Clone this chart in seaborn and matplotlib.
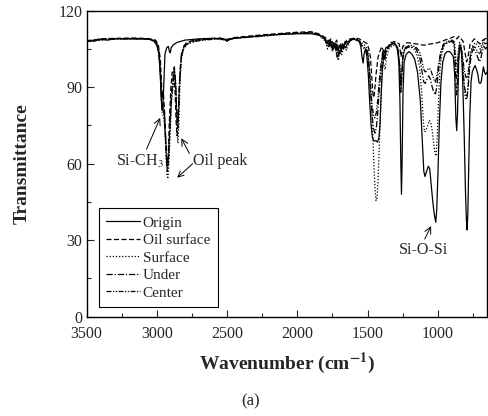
import numpy as np
import pandas as pd
import matplotlib
matplotlib.use("Agg")
import matplotlib.pyplot as plt
from matplotlib.ticker import MultipleLocator
import seaborn as sns

series_names = ["Origin", "Oil surface", "Surface", "Under", "Center"]

origin = [(3500,107.5),(3480,108.5),(3450,108),(3400,108.8),(3350,108.5),(3300,109),(3200,109),(3100,109),
    (3050,108.8),(3020,108),(3000,106.5),(2985,103),(2975,95),(2968,85),(2962,81),(2956,83),(2950,92),
    (2942,103),(2930,105.5),(2918,106),(2910,104),(2904,103.5),(2898,105.5),(2885,106.5),(2860,107.5),
    (2800,108.5),(2700,109),(2600,109.2),(2520,109),(2500,108),(2480,109),(2400,109.5),(2300,110),
    (2200,110.5),(2100,110.8),(2000,111),(1900,111),(1850,110.5),(1820,110),(1800,108.5),(1790,107),
    (1780,108.5),(1770,106),(1760,108),(1750,105.5),(1740,107.5),(1730,105),(1720,107),(1710,104),
    (1700,106.5),(1690,105),(1680,107),(1670,105.5),(1660,108),(1640,107),(1620,108.5),(1600,109),
    (1580,108.5),(1560,108),(1548,106),(1540,102),(1532,99.5),(1525,103),(1515,105),(1505,102),
    (1495,95),(1485,84),(1475,75),(1465,70),(1455,69),(1440,69),(1430,68.5),(1420,70),(1412,75),
    (1405,85),(1395,97),(1385,103),(1370,105.5),(1340,106.5),(1310,107.5),(1290,106),(1278,100),
    (1270,85),(1264,62),(1259,48),(1254,62),(1248,88),(1240,100),(1225,103),(1205,104),(1185,103),
    (1165,101),(1145,96),(1125,85),(1110,68),(1100,57),(1092,55),(1080,57),(1068,59),(1058,58),
    (1048,52),(1036,45),(1025,40),(1015,37),(1008,42),(1000,55),(990,75),(978,92),(965,100),
    (950,103),(935,104),(915,104),(900,103),(890,102),(880,95),(872,78),(866,73),(860,80),(852,100),
    (845,105),(838,106),(830,103),(822,90),(812,70),(804,50),(797,38),(792,34),(787,40),(780,60),
    (772,80),(764,92),(755,96),(745,97.5),(735,98.5),(725,97),(715,95),(708,92),(700,91.5),(692,92),
    (684,95),(676,98),(668,96),(660,95),(650,96)]

oil_surface = [(3500,108),(3450,108.5),(3400,109),(3300,109.2),(3200,109.3),(3100,109.2),(3050,109),
    (3010,108.5),(2990,107),(2975,101),(2965,90),(2960,86),(2954,88),(2946,82),(2938,70),(2930,60),
    (2925,57),(2920,60),(2912,75),(2900,90),(2890,96),(2880,95),(2870,88),(2862,76),(2856,71),
    (2850,74),(2842,88),(2830,100),(2815,105),(2790,107.5),(2740,108.5),(2650,109),(2550,109.3),
    (2500,108.8),(2450,109.5),(2300,110.3),(2200,110.8),(2100,111.2),(2000,111.6),(1900,111.8),
    (1850,111),(1800,109.5),(1780,108),(1760,109),(1740,106.5),(1720,108.5),(1700,103),(1690,107),
    (1670,105),(1650,108.5),(1620,109),(1590,109.3),(1560,109),(1530,108),(1500,107),(1480,102),
    (1468,92),(1460,86),(1452,87),(1440,95),(1425,102),(1400,106),(1385,104),(1377,101),(1370,104),
    (1340,107.5),(1300,108),(1275,107),(1262,102),(1250,106),(1220,107.5),(1150,107),(1100,106.5),
    (1050,107),(1000,107.5),(950,108.5),(900,109.5),(880,110),(865,109),(850,110),(820,108),
    (805,103),(795,100),(785,102),(770,107),(740,109),(720,108),(700,107),(680,108.5),(650,109.5)]

surface = [(3500,107.5),(3450,108.5),(3400,108.5),(3300,109),(3200,109),(3100,109),(3040,108.8),
    (3010,108),(2990,105),(2978,98),(2968,86),(2962,80),(2955,79),(2945,75),(2935,64),(2928,56),
    (2922,54),(2916,58),(2905,72),(2895,84),(2885,90),(2878,96),(2870,95),(2862,85),(2855,72),
    (2850,68),(2843,76),(2835,92),(2825,101),(2810,105),(2780,107),(2700,108.5),(2600,109),
    (2500,108.5),(2450,109.3),(2300,110),(2200,110.5),(2100,110.8),(2000,111.2),(1900,111.4),
    (1850,110.8),(1800,108),(1785,105),(1770,107.5),(1750,104),(1735,106.5),(1720,103),(1708,100.5),
    (1700,104),(1685,102.5),(1670,106),(1650,104.5),(1630,108),(1600,109),(1570,108.8),(1545,107.5),
    (1520,106.5),(1500,105),(1488,98),(1478,88),(1470,80),(1462,70),(1454,58),(1446,49),(1440,45.5),
    (1434,46),(1426,53),(1418,65),(1410,78),(1400,92),(1390,100),(1380,98),(1375,97),(1368,101),
    (1350,105),(1320,106.5),(1295,106),(1280,103),(1270,97),(1262,90),(1256,96),(1248,103),
    (1230,105.5),(1200,106),(1170,105),(1150,103),(1130,98),(1115,88),(1105,78),(1095,72.5),
    (1085,73),(1072,75),(1060,77),(1050,76),(1040,73),(1030,68),(1020,64),(1013,63),(1005,70),
    (995,85),(985,97),(970,104),(950,107),(920,108),(895,108.5),(880,107),(870,100),(862,98),
    (855,104),(845,107.5),(835,106),(825,100),(815,92),(805,86),(798,85),(790,88),(780,96),
    (770,103),(755,106),(735,107.5),(715,106.5),(700,105),(685,107),(670,108.5),(650,109)]

under = [(3500,108),(3420,108.8),(3300,109),(3150,109.2),(3050,109),(3010,108.3),(2990,106),
    (2978,100),(2968,88),(2962,82),(2955,83),(2946,80),(2936,70),(2928,62),(2923,60),(2916,63),
    (2905,78),(2895,88),(2885,93),(2875,98),(2866,92),(2858,80),(2852,76),(2845,82),(2836,95),
    (2825,103),(2805,106.5),(2760,108),(2650,108.8),(2550,109.2),(2500,108.5),(2450,109.3),
    (2300,110),(2200,110.5),(2100,111),(2000,111.3),(1900,111.5),(1850,110.8),(1800,109),
    (1780,106),(1765,108.5),(1745,105),(1728,107.5),(1712,102),(1702,104.5),(1690,103.5),
    (1675,107),(1655,105.5),(1635,108.5),(1600,109.2),(1560,108.5),(1540,106),(1520,105),
    (1500,103),(1488,96),(1478,87),(1468,79),(1458,74),(1448,72),(1438,74),(1428,80),(1418,88),
    (1405,97),(1392,103),(1378,101),(1368,104),(1340,106.5),(1310,107),(1285,105),(1272,98),
    (1264,88),(1258,92),(1250,101),(1235,105),(1200,106),(1160,105.5),(1130,102),(1112,96),
    (1100,92),(1090,91.5),(1078,93),(1065,94.5),(1052,93),(1040,90),(1028,88),(1018,87),(1008,90),
    (995,97),(980,103),(960,106.5),(930,107.5),(900,108),(885,107),(875,95),(868,87),(862,90),
    (855,100),(845,106),(835,105),(822,97),(810,90),(800,87),(792,86),(784,90),(775,97),(762,103),
    (748,105),(732,104),(718,102),(705,100),(695,101),(685,104),(672,106),(660,105),(650,106)]

center = [(3500,108.2),(3420,108.6),(3300,109),(3150,109),(3050,108.8),(3010,108),(2990,105.5),
    (2978,99),(2968,87),(2962,81),(2955,82),(2946,78),(2936,68),(2928,60),(2923,58.5),(2916,62),
    (2905,76),(2895,86),(2885,92),(2876,97.5),(2866,91),(2858,79),(2852,74),(2845,80),(2836,94),
    (2825,102),(2805,106),(2760,107.8),(2650,108.6),(2550,109),(2500,108.3),(2450,109.2),
    (2300,109.8),(2200,110.3),(2100,110.8),(2000,111.1),(1900,111.3),(1850,110.5),(1800,108.5),
    (1782,106.5),(1768,108),(1750,104.5),(1732,107),(1716,101.5),(1704,103),(1692,104.5),
    (1678,106),(1660,107.5),(1640,108),(1600,108.8),(1560,108.2),(1540,106.5),(1520,105.5),
    (1500,104),(1488,98),(1478,90),(1468,83),(1458,79),(1448,78),(1438,80),(1428,85),(1418,92),
    (1405,99),(1392,104),(1378,102),(1368,104.5),(1340,106.8),(1310,107.2),(1285,105.5),
    (1272,99),(1264,91),(1258,94),(1250,102),(1235,105.5),(1200,106.5),(1160,106),(1130,104),
    (1112,100),(1100,97),(1090,96),(1078,96.5),(1065,97.5),(1052,97),(1040,95),(1028,93),
    (1018,92),(1008,94),(995,99),(980,104),(960,107),(930,108),(900,108.5),(885,108),(875,100),
    (868,93),(862,95),(855,103),(845,107),(835,106.5),(822,101),(810,96),(800,94),(792,93.5),
    (784,96),(775,100),(762,104),(748,106),(732,105.5),(718,104),(705,103),(695,104),(685,106),
    (672,107.5),(660,107),(650,107.5)]

x_ticks = [3500, 3000, 2500, 2000, 1500, 1000]
y_ticks = [0, 30, 60, 90, 120]

rows = []
for name, pts in zip(series_names, [origin, oil_surface, surface, under, center]):
    for w, t in pts:
        rows.append((name, w, t))
df = pd.DataFrame(rows, columns=["series", "wn", "T"])

sns.set_style("ticks")
plt.rcParams["font.family"] = ["Liberation Serif", "DejaVu Serif"]
plt.rcParams["mathtext.fontset"] = "stix"

fig = plt.figure(figsize=(4.89, 4.16), dpi=100)
ax = fig.add_axes([0.177, 0.239, 0.819, 0.735])

dash_map = {
    "Origin": "",
    "Oil surface": (4, 2),
    "Surface": (1, 1.5),
    "Under": (5, 1.5, 1, 1.5),
    "Center": (4, 1.2, 1, 1.2, 1, 1.2),
}
sns.lineplot(data=df, x="wn", y="T", style="series", style_order=series_names,
             dashes=dash_map, color="black", linewidth=0.9, sort=False,
             estimator=None, ax=ax)

ax.set_xlim(3500, 650)
ax.set_ylim(0, 120)
ax.set_xticks(x_ticks)
ax.set_yticks(y_ticks)
ax.xaxis.set_minor_locator(MultipleLocator(250))
ax.yaxis.set_minor_locator(MultipleLocator(15))
ax.tick_params(which="both", direction="in", top=False, right=False, labelsize=11.5, width=0.8)
ax.tick_params(which="major", length=5)
ax.tick_params(which="minor", length=3)
ax.tick_params(axis="x", which="major", pad=7)
ax.tick_params(axis="y", which="major", pad=3)
for s in ax.spines.values():
    s.set_linewidth(1.0)
    s.set_color("black")

ax.set_xlabel(r"Wavenumber (cm$^{\mathbf{-1}}$)", fontsize=14, fontweight="bold", labelpad=6)
ax.set_ylabel("Transmittance", fontsize=14, fontweight="bold", labelpad=20)

handles, labels = ax.get_legend_handles_labels()
leg = ax.legend(handles, labels, loc="lower left", bbox_to_anchor=(0.03, 0.03),
                fontsize=11, frameon=True, fancybox=False, edgecolor="black",
                framealpha=1, borderaxespad=0, handlelength=2.2, handletextpad=0.2,
                labelspacing=0.25, borderpad=0.5)
leg.get_frame().set_linewidth(0.8)

arrow = dict(arrowstyle="->", color="black", lw=0.7, shrinkA=0, shrinkB=0)
ax.annotate("Si-CH$_3$", xy=(2976, 78), xytext=(3118, 61), fontsize=11.5,
            ha="center", va="center", arrowprops=dict(arrow, relpos=(0.6, 1.0)))
ax.annotate("Oil peak", xy=(2826, 70), xytext=(2745, 61), fontsize=11.5,
            ha="left", va="center", arrowprops=dict(arrow, relpos=(0.0, 0.6)))
ax.annotate("", xy=(2855, 54.5), xytext=(2745, 60), arrowprops=arrow)
ax.annotate("Si-O-Si", xy=(1048, 35.5), xytext=(1105, 26), fontsize=11.5,
            ha="center", va="center", arrowprops=dict(arrow, relpos=(0.5, 1.0)))

fig.text(0.513, 0.034, "(a)", fontsize=12, ha="center", va="center")

fig.savefig("out.png", dpi=100)
